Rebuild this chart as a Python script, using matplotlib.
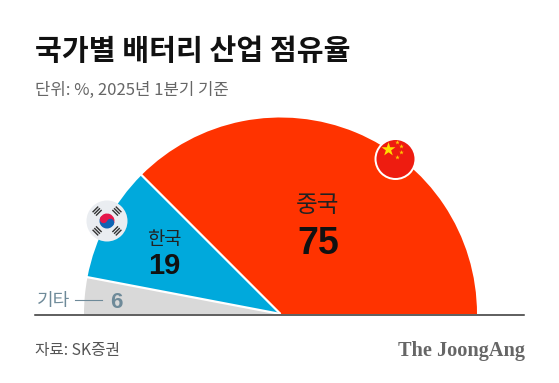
import matplotlib
matplotlib.use("Agg")
import matplotlib.pyplot as plt
from matplotlib.patches import Circle, Wedge, Rectangle
import numpy as np

plt.rcParams['font.family'] = ['Noto Sans CJK KR', 'DejaVu Sans']

# Données
pays = ['중국', '한국', '기타']
parts = [75, 19, 6]
couleurs = ['#FF3300', '#00A9DC', '#D9D9D9']

W, H = 559, 383


def y_px(y):
    # coordonnées image -> axes
    return H - y


fig = plt.figure(figsize=(W / 100, H / 100), dpi=100, facecolor='white')
ax = fig.add_axes([0, 0, 1, 1])

cx, cy, r = 280.5, y_px(314), 196.5

#---Demi-cercle : la moitié basse du camembert reste invisible------------
wedges, _ = ax.pie(parts + [sum(parts)], colors=couleurs + ['none'], startangle=0,
                   counterclock=True, center=(cx, cy), radius=r,
                   wedgeprops={'linewidth': 0})
ax.set_xlim(0, W)
ax.set_ylim(0, H)
ax.set_aspect('equal')
ax.axis('off')

# Séparateurs blancs entre les parts
cumul = np.cumsum(parts)[:-1]
for c in cumul:
    a = np.deg2rad(180 * c / sum(parts))
    ax.plot([cx, cx + (r + 2) * np.cos(a)], [cy, cy + (r + 2) * np.sin(a)],
            color='white', lw=1.6, zorder=3, solid_capstyle='butt')

# Ligne de base
ax.plot([35, 524], [y_px(314.7), y_px(314.7)], color='#333333', lw=1.1, zorder=4)

#---Drapeau chinois------------
fx, fy = 395.5, y_px(159)
ax.add_patch(Circle((fx, fy), 21, fc='white', ec='none', zorder=5))
ax.add_patch(Circle((fx, fy), 19, fc='#EE1C10', ec='none', zorder=6))
ax.scatter([fx - 7.3], [fy + 9.7], marker='*', s=110, c='#FFE000', linewidths=0, zorder=7)
ax.scatter([fx + 1.7, fx + 5.7, fx + 5.7, fx + 1.7], [fy + 17, fy + 12.7, fy + 6.7, fy + 2.3],
           marker='*', s=12, c='#FFC800', linewidths=0, zorder=7)

#---Drapeau coréen------------
kx, ky = 107, y_px(221)
ax.add_patch(Circle((kx, ky), 20.5, fc='#EAEDF1', ec='none', zorder=5))
ax.add_patch(Wedge((kx, ky), 7.5, -25, 155, fc='#E5174B', ec='none', zorder=6))
ax.add_patch(Wedge((kx, ky), 7.5, 155, 335, fc='#0F64B4', ec='none', zorder=6))
d = np.deg2rad(-25)
ax.add_patch(Circle((kx + 3.75 * np.cos(d), ky + 3.75 * np.sin(d)), 3.75, fc='#0F64B4', ec='none', zorder=7))
ax.add_patch(Circle((kx - 3.75 * np.cos(d), ky - 3.75 * np.sin(d)), 3.75, fc='#E5174B', ec='none', zorder=7))
for ang in [45, 135, 225, 315]:
    a = np.deg2rad(ang)
    tx, ty = kx + 14 * np.cos(a), ky + 14 * np.sin(a)
    for off in (-2.4, 0, 2.4):
        ox, oy = tx + off * np.cos(a), ty + off * np.sin(a)
        ax.add_patch(Rectangle((ox - 4, oy - 0.7), 8, 1.4, angle=ang + 90, rotation_point='center',
                               fc='#333333', ec='none', zorder=6))

#---Textes------------
ax.text(35, y_px(51), '국가별 배터리 산업 점유율', fontsize=21, fontweight='black', color='#111111',
        ha='left', va='center')
ax.text(35, y_px(90.5), '단위: %, 2025년 1분기 기준', fontsize=12, color='#666666', ha='left', va='center')

ax.text(318, y_px(206), pays[0], fontsize=17, fontweight='medium', color='#222222',
        ha='center', va='center', zorder=8)
ax.text(318, y_px(244), str(parts[0]), fontsize=27, fontweight='bold', color='#111111',
        ha='center', va='center', zorder=8, family=['Liberation Sans'])
ax.text(164, y_px(240), pays[1], fontsize=13.5, fontweight='medium', color='#222222',
        ha='center', va='center', zorder=8)
ax.text(164, y_px(266), str(parts[1]), fontsize=21, fontweight='bold', color='#111111',
        ha='center', va='center', zorder=8, family=['Liberation Sans'])
ax.text(54, y_px(301), pays[2], fontsize=13, color='#6E8A99', ha='center', va='center', zorder=8)
ax.plot([75, 102], [y_px(300), y_px(300)], color='#6E8A99', lw=0.8, zorder=8)
ax.text(116, y_px(302), str(parts[2]), fontsize=16, fontweight='bold', color='#6E8A99',
        ha='center', va='center', zorder=8, family=['Liberation Sans'])

ax.text(35, y_px(350), '자료: SK증권', fontsize=11.3, color='#555555', ha='left', va='center')
ax.text(525, y_px(351), 'The JoongAng', fontsize=14.6, fontweight='bold', color='#666666',
        ha='right', va='center', family=['Liberation Serif'])

fig.savefig('out.png', dpi=100, facecolor='white')
